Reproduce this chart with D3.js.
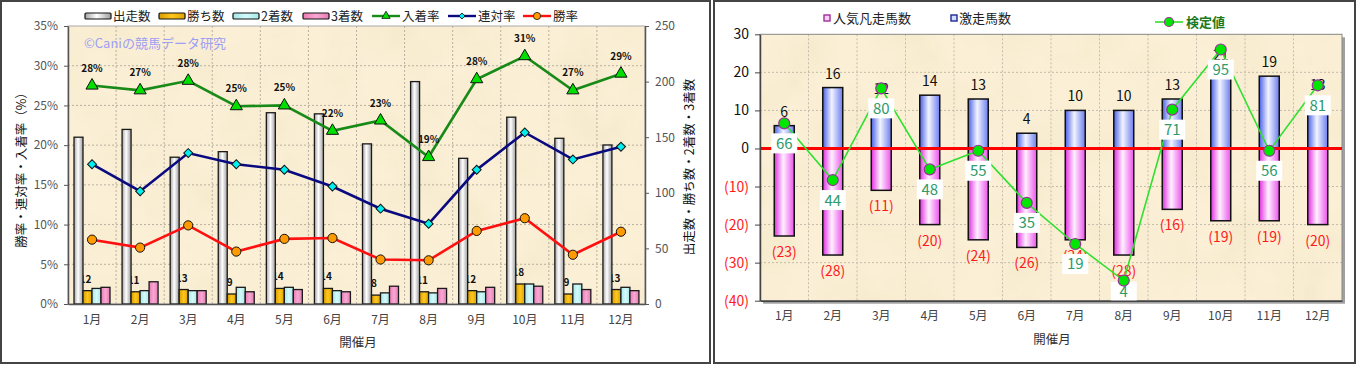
<!DOCTYPE html>
<html lang="ja">
<head>
<meta charset="UTF-8">
<script src="https://d3js.org/d3.v7.min.js"></script>
<style>
  body { margin: 0; background: #fff; }
  svg text { font-family: "Noto Sans CJK JP", "Noto Sans", sans-serif; }
</style>
</head>
<body>
<svg id="chart" width="1357" height="366"></svg>
<script>
// ---- data ----
const months = ["1月", "2月", "3月", "4月", "5月", "6月", "7月", "8月", "9月", "10月", "11月", "12月"];

// left chart: counts (right axis) and rates (left axis, %)
const runners = [150, 157, 132, 137, 172, 171, 144, 200, 131, 168, 149, 143];
const wins = [12, 11, 13, 9, 14, 14, 8, 11, 12, 18, 9, 13];
const seconds = [14, 12, 12, 15, 15, 12, 10, 10, 11, 18, 18, 15];
const thirds = [15, 20, 12, 11, 13, 11, 16, 14, 15, 16, 13, 12];
const placeRate = [27.5, 26.9, 28.1, 24.9, 25.0, 21.8, 23.1, 18.5, 28.3, 31.2, 26.9, 29.0];
const placeLabels = ["28%", "27%", "28%", "25%", "25%", "22%", "23%", "19%", "28%", "31%", "27%", "29%"];
const quinellaRate = [17.6, 14.2, 19.0, 17.6, 16.9, 14.8, 12.0, 10.1, 16.9, 21.6, 18.2, 19.8];
const winRate = [8.1, 7.1, 9.9, 6.6, 8.2, 8.3, 5.6, 5.5, 9.2, 10.8, 6.2, 9.1];
const barNames = ["出走数", "勝ち数", "2着数", "3着数"];
const lineNames = ["入着率", "連対率", "勝率"];

// right chart
const hotCount = [6, 16, 12, 14, 13, 4, 10, 10, 13, 21, 19, 13];   // 激走馬数
const coldCount = [23, 28, 11, 20, 24, 26, 24, 28, 16, 19, 19, 20]; // 人気凡走馬数
const testPos = [6.6, -8.3, 15.8, -5.5, -0.6, -14.3, -25.1, -34.7, 10.2, 26.0, -0.6, 16.6];
const testValues = [66, 44, 80, 48, 55, 35, 19, 4, 71, 95, 56, 81];

const svg = d3.select("#chart");
const defs = svg.append("defs");

// paper texture for plot areas
const paper = defs.append("filter").attr("id", "paper")
  .attr("x", 0).attr("y", 0).attr("width", "100%").attr("height", "100%");
paper.append("feTurbulence").attr("type", "fractalNoise")
  .attr("baseFrequency", "0.018").attr("numOctaves", 4).attr("seed", 7);
paper.append("feColorMatrix").attr("type", "matrix")
  .attr("values", "0 0 0 0 0.82  0 0 0 0 0.70  0 0 0 0 0.48  0.55 0 0 0 -0.2");

function hGrad(id, stops) {
  const g = defs.append("linearGradient").attr("id", id)
    .attr("x1", 0).attr("x2", 1).attr("y1", 0).attr("y2", 0);
  stops.forEach(s => g.append("stop").attr("offset", s[0]).attr("stop-color", s[1]));
}
hGrad("gSilver", [[0, "#a4a4a4"], [0.45, "#ffffff"], [1, "#9c9c9c"]]);
hGrad("gGold", [[0, "#d89c00"], [0.5, "#ffc81e"], [1, "#dca200"]]);
hGrad("gCyan", [[0, "#a8e6e6"], [0.5, "#d4fafa"], [1, "#a8e8e8"]]);
hGrad("gPink", [[0, "#e97cb6"], [0.5, "#f8a8d2"], [1, "#e67ab4"]]);
hGrad("gBlue", [[0, "#4a60e4"], [0.45, "#f2f4ff"], [1, "#6b7def"]]);
hGrad("gMag", [[0, "#e02ee0"], [0.45, "#fff0ff"], [1, "#ec52ec"]]);
const barFills = ["url(#gSilver)", "url(#gGold)", "url(#gCyan)", "url(#gPink)"];

// frames
svg.append("rect").attr("x", 1).attr("y", 1).attr("width", 709).attr("height", 362)
  .attr("fill", "#fff").attr("stroke", "#444").attr("stroke-width", 2);
svg.append("rect").attr("x", 714).attr("y", 1).attr("width", 641).attr("height", 362)
  .attr("fill", "#fff").attr("stroke", "#444").attr("stroke-width", 2);

function plotBg(parent, x0, y0, x1, y1) {
  parent.append("rect").attr("x", x0).attr("y", y0).attr("width", x1 - x0).attr("height", y1 - y0)
    .attr("fill", "#fbf0d6");
  parent.append("rect").attr("x", x0).attr("y", y0).attr("width", x1 - x0).attr("height", y1 - y0)
    .attr("filter", "url(#paper)");
}

// ================= LEFT CHART =================
const L = { x0: 68, x1: 645, y0: 26, y1: 304 };
const xL = d3.scaleBand().domain(months).range([L.x0, L.x1]);
const yPct = d3.scaleLinear().domain([0, 35]).range([L.y1, L.y0]);
const yCnt = d3.scaleLinear().domain([0, 250]).range([L.y1, L.y0]);
const xIn = d3.scaleBand().domain(d3.range(4)).range([6, 42]);
const cx = m => xL(m) + xL.bandwidth() / 2;

const left = svg.append("g");
plotBg(left, L.x0, L.y0, L.x1, L.y1);

// grid
left.selectAll(".hg").data(d3.range(5, 35, 5)).join("line")
  .attr("x1", L.x0).attr("x2", L.x1).attr("y1", d => yPct(d)).attr("y2", d => yPct(d))
  .attr("stroke", "#b8b0a0").attr("stroke-dasharray", "2,2");
left.selectAll(".vg").data(months.slice(1)).join("line")
  .attr("x1", d => xL(d)).attr("x2", d => xL(d)).attr("y1", L.y0).attr("y2", L.y1)
  .attr("stroke", "#b8b0a0").attr("stroke-dasharray", "2,2");
left.append("rect").attr("x", L.x0).attr("y", L.y0).attr("width", L.x1 - L.x0).attr("height", L.y1 - L.y0)
  .attr("fill", "none").attr("stroke", "#aaa");

// watermark
left.append("text").attr("x", 84).attr("y", 48).attr("font-size", 13).attr("fill", "#9d9ff2")
  .text("©Caniの競馬データ研究");

// win count labels (partly hidden behind runner bars)
left.selectAll(".wl").data(wins).join("text")
  .attr("x", (d, i) => xL(months[i]) + 17.5).attr("y", (d, i) => yCnt(d) - 8)
  .attr("text-anchor", "middle").attr("font-size", 10).attr("font-weight", "bold").attr("fill", "#111")
  .text(d => d);

// bars
[runners, wins, seconds, thirds].forEach((arr, k) => {
  left.selectAll(".b" + k).data(arr).join("rect")
    .attr("x", (d, i) => xL(months[i]) + xIn(k))
    .attr("width", xIn.bandwidth())
    .attr("y", d => yCnt(d)).attr("height", d => yCnt(0) - yCnt(d))
    .attr("fill", barFills[k]).attr("stroke", "#1a1a1a").attr("stroke-width", 1.3);
});

// lines
const lineL = d3.line().x((d, i) => cx(months[i])).y(d => yPct(d));
const lineCols = ["#178a17", "#0a0a80", "#ff1010"];
[placeRate, quinellaRate, winRate].forEach((arr, k) => {
  left.append("path").datum(arr).attr("d", lineL)
    .attr("fill", "none").attr("stroke", lineCols[k]).attr("stroke-width", 2.6);
});
left.selectAll(".tri").data(placeRate).join("path")
  .attr("d", d3.symbol(d3.symbolTriangle, 64))
  .attr("transform", (d, i) => `translate(${cx(months[i])},${yPct(d)})`)
  .attr("fill", "#00e000").attr("stroke", "#111").attr("stroke-width", 1);
left.selectAll(".dia").data(quinellaRate).join("path")
  .attr("d", d3.symbol(d3.symbolSquare, 40))
  .attr("transform", (d, i) => `translate(${cx(months[i])},${yPct(d)}) rotate(45)`)
  .attr("fill", "#00f0f0").attr("stroke", "#111").attr("stroke-width", 1);
left.selectAll(".cir").data(winRate).join("circle")
  .attr("cx", (d, i) => cx(months[i])).attr("cy", d => yPct(d)).attr("r", 4.6)
  .attr("fill", "#ff9a00").attr("stroke", "#111").attr("stroke-width", 1);
left.selectAll(".pl").data(placeRate).join("text")
  .attr("x", (d, i) => cx(months[i])).attr("y", d => yPct(d) - 14)
  .attr("text-anchor", "middle").attr("font-size", 10).attr("font-weight", "bold").attr("fill", "#111")
  .text((d, i) => placeLabels[i]);

// axes
const axL = left.append("g").attr("transform", `translate(${L.x0},0)`)
  .call(d3.axisLeft(yPct).tickValues(d3.range(0, 36, 5)).tickFormat(d => d + "%")
    .tickSize(4).tickSizeOuter(0).tickPadding(6));
const axR = left.append("g").attr("transform", `translate(${L.x1},0)`)
  .call(d3.axisRight(yCnt).tickValues(d3.range(0, 251, 50))
    .tickSize(4).tickSizeOuter(0).tickPadding(6));
const axB = left.append("g").attr("transform", `translate(0,${L.y1})`)
  .call(d3.axisBottom(xL).tickSize(0).tickSizeOuter(0).tickPadding(11));
[axL, axR, axB].forEach(a => {
  a.select(".domain").attr("stroke", "#555").attr("stroke-width", 1.5);
  a.selectAll(".tick line").attr("stroke", "#555");
  a.selectAll("text").attr("font-size", 12).attr("fill", "#555")
    .attr("font-family", "'Noto Sans CJK JP', sans-serif");
});
axB.selectAll("text").attr("fill", "#444");

left.append("text").attr("transform", "translate(26,167) rotate(-90)")
  .attr("text-anchor", "middle").attr("font-size", 12.5).attr("fill", "#111")
  .text("勝率・連対率・入着率（%）");
left.append("text").attr("transform", "translate(694,167) rotate(-90)")
  .attr("text-anchor", "middle").attr("font-size", 12.5).attr("fill", "#111")
  .text("出走数・勝ち数・2着数・3着数");
left.append("text").attr("x", 358).attr("y", 347).attr("text-anchor", "middle")
  .attr("font-size", 12.5).attr("fill", "#333").text("開催月");

// legend
const legBarX = [85, 159, 233, 303];
barNames.forEach((n, k) => {
  left.append("rect").attr("x", legBarX[k]).attr("y", 13).attr("width", 26).attr("height", 6)
    .attr("fill", barFills[k]).attr("stroke", "#111").attr("stroke-width", 1.2).attr("rx", 1);
  left.append("text").attr("x", legBarX[k] + 28).attr("y", 21).attr("font-size", 12.5).attr("fill", "#222").text(n);
});
const legLineX = [372, 448, 523];
lineNames.forEach((n, k) => {
  left.append("line").attr("x1", legLineX[k]).attr("x2", legLineX[k] + 28).attr("y1", 16).attr("y2", 16)
    .attr("stroke", lineCols[k]).attr("stroke-width", 2.4);
  const mx = legLineX[k] + 14;
  if (k === 0) left.append("path").attr("d", d3.symbol(d3.symbolTriangle, 30)())
    .attr("transform", `translate(${mx},16)`).attr("fill", "#00e000").attr("stroke", "#111").attr("stroke-width", 0.8);
  if (k === 1) left.append("path").attr("d", d3.symbol(d3.symbolSquare, 18)())
    .attr("transform", `translate(${mx},16) rotate(45)`).attr("fill", "#00f0f0").attr("stroke", "#111").attr("stroke-width", 0.8);
  if (k === 2) left.append("circle").attr("cx", mx).attr("cy", 16).attr("r", 3.6)
    .attr("fill", "#ff9a00").attr("stroke", "#111").attr("stroke-width", 0.8);
  left.append("text").attr("x", legLineX[k] + 30).attr("y", 21).attr("font-size", 12.5).attr("fill", "#222").text(n);
});

// ================= RIGHT CHART =================
const R = { x0: 760, x1: 1342, y0: 34.3, y1: 300.7 };
const xR = d3.scaleBand().domain(months).range([R.x0, R.x1]);
const yR = d3.scaleLinear().domain([-40, 30]).range([R.y1, R.y0]);
const rx = m => xR(m) + xR.bandwidth() / 2;
const right = svg.append("g");

right.append("rect").attr("x", R.x0 + 3).attr("y", R.y0 + 3).attr("width", R.x1 - R.x0).attr("height", R.y1 - R.y0)
  .attr("fill", "#a0a0a0");
plotBg(right, R.x0, R.y0, R.x1, R.y1);
right.selectAll(".hg").data(d3.range(-30, 30, 10)).join("line")
  .attr("x1", R.x0).attr("x2", R.x1).attr("y1", d => yR(d)).attr("y2", d => yR(d))
  .attr("stroke", "#c4bcac").attr("stroke-dasharray", "2,2");
right.selectAll(".vg").data(months.slice(1)).join("line")
  .attr("x1", d => xR(d)).attr("x2", d => xR(d)).attr("y1", R.y0).attr("y2", R.y1)
  .attr("stroke", "#c4bcac").attr("stroke-dasharray", "2,2");
right.append("rect").attr("x", R.x0).attr("y", R.y0).attr("width", R.x1 - R.x0).attr("height", R.y1 - R.y0)
  .attr("fill", "none").attr("stroke", "#888");

const bw = 20;
right.selectAll(".hot").data(hotCount).join("rect")
  .attr("x", (d, i) => rx(months[i]) - bw / 2).attr("width", bw)
  .attr("y", d => yR(d)).attr("height", d => yR(0) - yR(d))
  .attr("fill", "url(#gBlue)").attr("stroke", "#111").attr("stroke-width", 1.5);
right.selectAll(".cold").data(coldCount).join("rect")
  .attr("x", (d, i) => rx(months[i]) - bw / 2).attr("width", bw)
  .attr("y", yR(0)).attr("height", d => yR(-d) - yR(0))
  .attr("fill", "url(#gMag)").attr("stroke", "#111").attr("stroke-width", 1.5);
right.append("line").attr("x1", R.x0).attr("x2", R.x1).attr("y1", yR(0)).attr("y2", yR(0))
  .attr("stroke", "#ff0000").attr("stroke-width", 3);

right.selectAll(".hl").data(hotCount).join("text")
  .attr("x", (d, i) => rx(months[i])).attr("y", d => yR(d) - 9)
  .attr("text-anchor", "middle").attr("font-size", 14).attr("fill", "#111").text(d => d);
right.selectAll(".cl").data(coldCount).join("text")
  .attr("x", (d, i) => rx(months[i])).attr("y", d => yR(-d) + 21)
  .attr("text-anchor", "middle").attr("font-size", 14).attr("fill", "#ff1a1a").text(d => `(${d})`);

const lineR = d3.line().x((d, i) => rx(months[i])).y(d => yR(d));
right.append("path").datum(testPos).attr("d", lineR)
  .attr("fill", "none").attr("stroke", "#2fe02f").attr("stroke-width", 1.6);
// value boxes sit under the dot, kept inside the plot area
const tl = right.selectAll(".tl").data(testValues).join("g")
  .attr("transform", (d, i) => `translate(${rx(months[i])},${Math.min(yR(testPos[i]) + 20, R.y1 - 9)})`);
tl.append("rect").attr("x", -13).attr("y", -10).attr("width", 26).attr("height", 20).attr("fill", "#fff");
tl.append("text").attr("y", 5.5).attr("text-anchor", "middle").attr("font-size", 15)
  .attr("fill", "#2f9a6a").text(d => d);
right.selectAll(".td").data(testPos).join("circle")
  .attr("cx", (d, i) => rx(months[i])).attr("cy", d => yR(d)).attr("r", 5.5)
  .attr("fill", "#00e600").attr("stroke", "#993399").attr("stroke-width", 1.2);

const axRL = right.append("g").attr("transform", `translate(${R.x0},0)`)
  .call(d3.axisLeft(yR).tickValues(d3.range(-40, 31, 10)).tickFormat(d => d < 0 ? `(${-d})` : d)
    .tickSize(5).tickSizeOuter(0).tickPadding(6));
axRL.select(".domain").attr("stroke", "#444").attr("stroke-width", 1.5);
axRL.selectAll(".tick line").attr("stroke", "#444");
axRL.selectAll("text").attr("font-size", 14).attr("font-family", "'Noto Sans CJK JP', sans-serif")
  .attr("fill", d => d < 0 ? "#ff1a1a" : "#111");
const axRB = right.append("g").attr("transform", `translate(0,${R.y1})`)
  .call(d3.axisBottom(xR).tickSize(0).tickSizeOuter(0).tickPadding(11));
axRB.select(".domain").attr("stroke", "#444").attr("stroke-width", 1.5);
axRB.selectAll("text").attr("font-size", 12).attr("fill", "#444")
  .attr("font-family", "'Noto Sans CJK JP', sans-serif");
right.append("text").attr("x", 1052).attr("y", 344).attr("text-anchor", "middle")
  .attr("font-size", 12.5).attr("fill", "#333").text("開催月");

// legend
right.append("rect").attr("x", 824).attr("y", 15).attr("width", 6).attr("height", 6)
  .attr("fill", "#fbd0f4").attr("stroke", "#a0309a").attr("stroke-width", 1.4);
right.append("text").attr("x", 833).attr("y", 23).attr("font-size", 13).attr("fill", "#222").text("人気凡走馬数");
right.append("rect").attr("x", 951).attr("y", 15).attr("width", 6).attr("height", 6)
  .attr("fill", "#d8dcff").attr("stroke", "#1a2a90").attr("stroke-width", 1.4);
right.append("text").attr("x", 959).attr("y", 23).attr("font-size", 13).attr("fill", "#222").text("激走馬数");
right.append("line").attr("x1", 1155).attr("x2", 1183).attr("y1", 22).attr("y2", 22)
  .attr("stroke", "#2fe02f").attr("stroke-width", 1.6);
right.append("circle").attr("cx", 1169).attr("cy", 22).attr("r", 4.5)
  .attr("fill", "#00e600").attr("stroke", "#993399").attr("stroke-width", 1.2);
right.append("text").attr("x", 1186).attr("y", 27).attr("font-size", 13).attr("font-weight", "bold")
  .attr("fill", "#1a7a1a").text("検定値");
</script>
</body>
</html>
